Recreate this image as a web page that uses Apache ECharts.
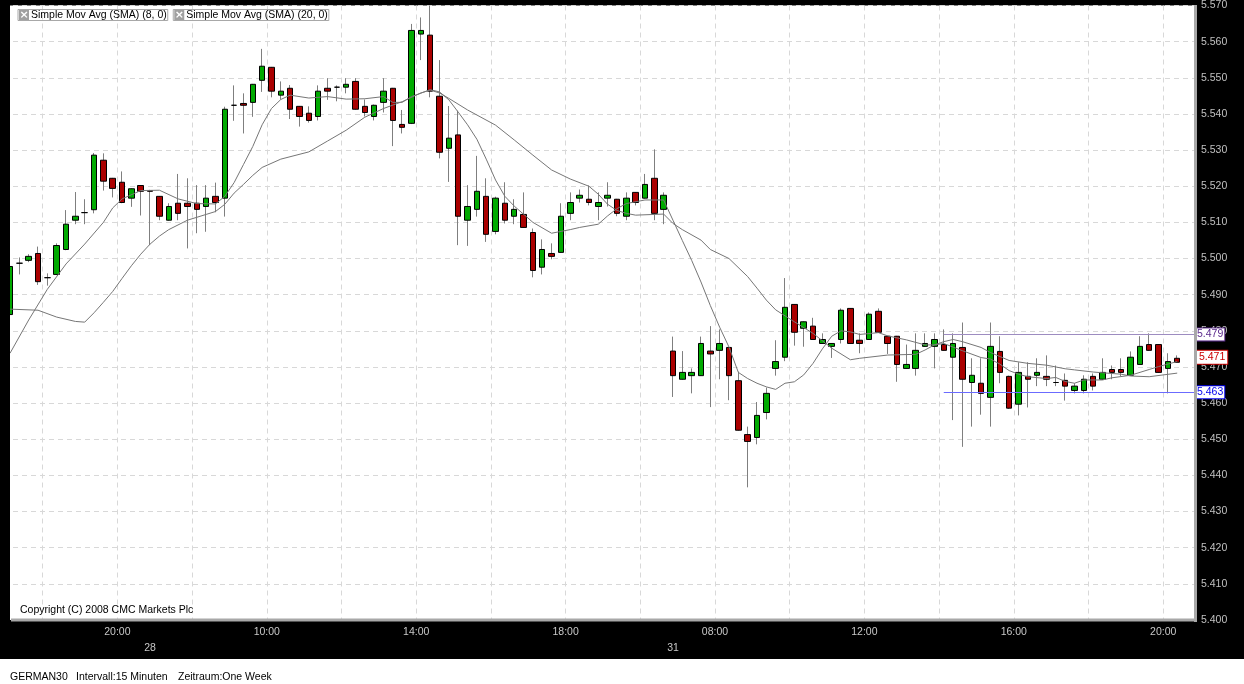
<!DOCTYPE html>
<html>
<head>
<meta charset="utf-8">
<script src="https://cdn.jsdelivr.net/npm/echarts@6/dist/echarts.min.js"></script>
<style>
html,body{margin:0;padding:0;background:#000;}
#chart{width:1244px;height:684px;}
</style>
</head>
<body>
<div id="chart"></div>
<script>
// ---- DATA (GERMAN30, 15-minute candles) ----
const opens = [5.4845,5.4987,5.4995,5.5014,5.4947,5.4956,5.5025,5.5106,5.5127,5.5135,
5.5272,5.5222,5.5211,5.5167,5.5202,5.5188,5.5172,5.5106,5.5153,5.5153,
5.5153,5.5144,5.5172,5.5167,5.5424,5.5429,5.5432,5.5493,5.5529,5.5452,
5.5471,5.5421,5.5402,5.5393,5.5471,5.5474,5.5474,5.5490,5.5421,5.5393,
5.5432,5.5471,5.5371,5.5374,5.5621,5.5618,5.5449,5.5305,5.5342,5.5106,
5.5136,5.5172,5.5075,5.5153,5.5117,5.5122,5.5072,5.4976,5.5014,5.5017,
5.5125,5.5167,5.5164,5.5144,5.5167,5.5164,5.5117,5.5183,5.5167,5.5222,
5.5136,5.4744,5.4666,5.4676,5.4676,5.4744,5.4746,5.4754,5.4662,5.4513,
5.4505,5.4574,5.4696,5.4727,5.4873,5.4807,5.4813,5.4765,5.4757,5.4776,
5.4862,5.4774,5.4776,5.4854,5.4785,5.4785,5.4696,5.4696,5.4757,5.4757,
5.4762,5.4727,5.4754,5.4657,5.4655,5.4616,5.4743,5.4674,5.4597,5.4674,
5.4677,5.4674,5.4657,5.4663,5.4635,5.4635,5.4674,5.4666,5.4693,5.4693,
5.4677,5.4707,5.4762,5.4762,5.4696,5.4724];
const closes = [5.4978,5.4987,5.5006,5.4936,5.4947,5.5036,5.5095,5.5117,5.5127,5.5286,
5.5214,5.5194,5.5155,5.5193,5.5186,5.5186,5.5117,5.5144,5.5125,5.5144,
5.5136,5.5167,5.5155,5.5413,5.5424,5.5424,5.5482,5.5532,5.5463,5.5463,
5.5413,5.5393,5.5382,5.5463,5.5463,5.5474,5.5482,5.5413,5.5404,5.5424,
5.5463,5.5382,5.5363,5.5631,5.5631,5.5463,5.5294,5.5333,5.5117,5.5144,
5.5186,5.5067,5.5167,5.5106,5.5136,5.5086,5.4967,5.5025,5.5006,5.5117,
5.5155,5.5175,5.5155,5.5155,5.5175,5.5125,5.5167,5.5155,5.5205,5.5125,
5.5175,5.4676,5.4685,5.4685,5.4765,5.4736,5.4765,5.4676,5.4525,5.4494,
5.4566,5.4627,5.4715,5.4865,5.4796,5.4825,5.4776,5.4776,5.4765,5.4857,
5.4765,5.4765,5.4846,5.4796,5.4765,5.4707,5.4707,5.4746,5.4765,5.4776,
5.4746,5.4765,5.4666,5.4677,5.4627,5.4757,5.4685,5.4586,5.4685,5.4666,
5.4685,5.4666,5.4657,5.4647,5.4647,5.4666,5.4647,5.4685,5.4685,5.4685,
5.4727,5.4757,5.4746,5.4685,5.4715,5.4713];
const lows = [5.4835,5.4956,5.4990,5.4927,5.4925,5.4954,5.5023,5.5095,5.5095,5.5125,
5.5188,5.5169,5.5153,5.5143,5.5119,5.5037,5.5106,5.5105,5.5106,5.5028,
5.5070,5.5074,5.5128,5.5116,5.5381,5.5346,5.5392,5.5461,5.5446,5.5440,
5.5386,5.5365,5.5376,5.5382,5.5439,5.5435,5.5457,5.5412,5.5393,5.5382,
5.5404,5.5311,5.5346,5.5372,5.5549,5.5446,5.5277,5.5212,5.5037,5.5035,
5.5116,5.5046,5.5067,5.5097,5.5095,5.5085,5.4948,5.4956,5.4998,5.5016,
5.5106,5.5155,5.5147,5.5106,5.5144,5.5117,5.5106,5.5147,5.5166,5.5106,
5.5095,5.4617,5.4665,5.4627,5.4675,5.4589,5.4666,5.4608,5.4524,5.4367,
5.4486,5.4555,5.4676,5.4716,5.4759,5.4756,5.4775,5.4764,5.4725,5.4765,
5.4764,5.4738,5.4775,5.4795,5.4736,5.4659,5.4695,5.4676,5.4756,5.4696,
5.4745,5.4553,5.4479,5.4535,5.4568,5.4535,5.4655,5.4584,5.4566,5.4588,
5.4647,5.4647,5.4647,5.4607,5.4627,5.4627,5.4635,5.4665,5.4666,5.4674,
5.4676,5.4706,5.4745,5.4684,5.4627,5.4712];
const highs = [5.4990,5.5003,5.5012,5.5033,5.4959,5.5042,5.5134,5.5184,5.5164,5.5292,
5.5291,5.5223,5.5241,5.5194,5.5203,5.5190,5.5173,5.5153,5.5234,5.5222,
5.5203,5.5203,5.5210,5.5420,5.5479,5.5457,5.5483,5.5580,5.5530,5.5490,
5.5480,5.5422,5.5421,5.5479,5.5499,5.5479,5.5499,5.5499,5.5440,5.5426,
5.5499,5.5472,5.5411,5.5649,5.5667,5.5700,5.5549,5.5422,5.5409,5.5203,
5.5284,5.5222,5.5171,5.5211,5.5164,5.5183,5.5083,5.5053,5.5042,5.5153,
5.5183,5.5191,5.5202,5.5183,5.5211,5.5165,5.5183,5.5184,5.5234,5.5302,
5.5183,5.4784,5.4744,5.4696,5.4784,5.4813,5.4804,5.4755,5.4687,5.4535,
5.4603,5.4643,5.4774,5.4946,5.4874,5.4826,5.4836,5.4793,5.4766,5.4862,
5.4863,5.4793,5.4851,5.4862,5.4786,5.4786,5.4762,5.4793,5.4793,5.4793,
5.4804,5.4793,5.4823,5.4724,5.4724,5.4823,5.4785,5.4676,5.4713,5.4713,
5.4724,5.4732,5.4704,5.4682,5.4655,5.4677,5.4682,5.4724,5.4704,5.4724,
5.4743,5.4785,5.4793,5.4763,5.4738,5.4732];

// moving-average lines: [candle index, value]
const sma8 = [[0,5.4738],[2,5.4830],[4,5.4915],[6,5.4985],[8,5.5040],[10,5.5100],[11,5.5140],[12,5.5165],[14,5.5188],[16,5.5189],[18,5.5165],[20,5.5152],[22,5.5151],[23,5.5172],[24,5.5210],[25,5.5260],[26,5.5310],[27,5.5370],[28,5.5415],[29,5.5440],[30,5.5452],[32,5.5444],[34,5.5448],[36,5.5441],[38,5.5442],[40,5.5448],[41,5.5432],[42,5.5432],[43,5.5448],[45,5.5467],[46,5.5461],[47,5.5439],[48,5.5405],[49,5.5370],[50,5.5330],[51,5.5275],[52,5.5217],[53,5.5172],[54,5.5145],[56,5.5100],[58,5.5070],[60,5.5080],[61,5.5086],[63,5.5095],[64,5.5118],[65,5.5138],[66,5.5152],[68,5.5162],[70,5.5162],[71,5.5106],[72,5.5050],[73,5.4995],[74,5.4935],[75,5.4870],[76,5.4810],[77,5.4755],[78,5.4685],[79,5.4668],[80,5.4655],[81,5.4645],[82,5.4638],[83,5.4655],[84,5.4659],[85,5.4678],[86,5.4710],[87,5.4750],[88,5.4785],[89,5.4800],[90,5.4797],[91,5.4790],[93,5.4795],[94,5.4786],[96,5.4775],[98,5.4761],[99,5.4761],[100,5.4765],[101,5.4755],[102,5.4745],[104,5.4726],[105,5.4722],[106,5.4708],[107,5.4690],[108,5.4680],[109,5.4673],[111,5.4668],[112,5.4671],[113,5.4660],[114,5.4655],[115,5.4664],[117,5.4664],[118,5.4670],[120,5.4677],[122,5.4693],[123,5.4701],[125,5.4715]];
const sma20 = [[0,5.4860],[3,5.4857],[5,5.4838],[7,5.4826],[8,5.4824],[9,5.4850],[10,5.4879],[11,5.4909],[12,5.4945],[13,5.4980],[14,5.5012],[15,5.5040],[16,5.5062],[17,5.5080],[19,5.5106],[21,5.5122],[22,5.5130],[23,5.5150],[24,5.5181],[25,5.5205],[26,5.5230],[27,5.5252],[29,5.5275],[32,5.5295],[34,5.5325],[36,5.5355],[38,5.5391],[40,5.5415],[42,5.5434],[44,5.5458],[45,5.5466],[46,5.5458],[47,5.5443],[49,5.5411],[52,5.5369],[54,5.5328],[56,5.5286],[58,5.5245],[60,5.5220],[62,5.5200],[63,5.5178],[64,5.5150],[65,5.5133],[66,5.5125],[67,5.5120],[70,5.5123],[71,5.5097],[72,5.5080],[74,5.5051],[75,5.5025],[77,5.5000],[79,5.4950],[80,5.4918],[81,5.4885],[82,5.4858],[84,5.4825],[86,5.4793],[88,5.4752],[90,5.4720],[91,5.4724],[94,5.4733],[97,5.4735],[98,5.4747],[99,5.4761],[100,5.4770],[101,5.4776],[102,5.4770],[104,5.4754],[105,5.4740],[107,5.4718],[109,5.4710],[111,5.4705],[113,5.4695],[114,5.4692],[116,5.4686],[117,5.4684],[119,5.4680],[120,5.4675],[122,5.4673],[125,5.4683]];

const seriesNames = ['Simple Mov Avg (SMA) (8, 0)', 'Simple Mov Avg (SMA) (20, 0)'];
// x tick labels, one per 2-hour gridline (8 candles)
const timeTickLabels = ['', '', '20:00', '', '10:00', '', '14:00', '', '18:00', '', '08:00', '', '12:00', '', '16:00', '', '20:00'];
// date labels: [candle index, text]
const dayLabels = [[15, '28'], [71, '31']];
// horizontal range levels (from candle index 100 to the right edge)
const rangeLevels = [5.479, 5.463];
const rangeStart = 100;
const footer = ['GERMAN30', 'Intervall:15 Minuten', 'Zeitraum:One Week'];

// ---- axis geometry ----
const X_SHIFT = 4.5;      // phase of the 2-hour grid relative to the first candle
const X_MAX = 131.3;
const FONT = '"Liberation Sans", Arial, sans-serif';

const candleRows = opens.map((o, i) => [i + X_SHIFT, o, closes[i], lows[i], highs[i]]);
const bodyRows = opens.map((o, i) => [i + X_SHIFT, o, closes[i], Math.min(o, closes[i]), Math.max(o, closes[i])]);
const lastIdx = closes.length - 1;
const lastClose = closes[lastIdx];

const levelColors = [{ text: '#5b2a8c', line: '#9d8cc0' }, { text: '#0000ee', line: '#6b6bff' }];
const markData = rangeLevels.map((lv, k) => [
  { coord: [rangeStart + X_SHIFT, lv],
    lineStyle: { color: levelColors[k].line, width: 1, type: 'solid' },
    label: { show: true, position: 'end', distance: 2, formatter: () => lv.toFixed(3),
      color: levelColors[k].text, backgroundColor: '#fff', borderColor: levelColors[k].text,
      borderWidth: 1, padding: [1, 1, 0, 1], fontSize: 10.5, fontFamily: FONT, lineHeight: 11 } },
  { coord: [X_MAX, lv] }
]);
markData.push([
  { coord: [lastIdx + X_SHIFT, lastClose],
    lineStyle: { color: 'rgba(0,0,0,0)', width: 1 },
    label: { show: true, position: 'end', distance: 3, offset: [0, -5], formatter: () => lastClose.toFixed(3),
      color: '#cc0000', backgroundColor: '#fff', borderColor: '#cc0000', borderWidth: 1,
      padding: [1, 2, 0, 2], fontSize: 10.5, fontFamily: FONT, lineHeight: 12 } },
  { coord: [X_MAX, lastClose] }
]);

const chart = echarts.init(document.getElementById('chart'), null, { renderer: 'canvas' });
const lineColor = '#767676';
chart.setOption({
  animation: false,
  backgroundColor: '#000',
  textStyle: { fontFamily: FONT },
  grid: { left: -32, right: 50, top: 5.5, bottom: 64, show: true, backgroundColor: '#fff', borderWidth: 0,
          containLabel: false, outerBoundsMode: 'none' },
  legend: {
    left: 8, top: 4, itemWidth: 0, itemHeight: 0, itemGap: 0, icon: 'rect', selectedMode: false,
    data: seriesNames,
    formatter: name => '{x|×}{t|' + name + '}',
    textStyle: {
      borderColor: '#a8a8a8', borderWidth: 1, padding: [0, 1, 0, 1],
      rich: {
        x: { width: 10, height: 10, backgroundColor: '#a0a0a0', color: '#fff', align: 'center',
             fontSize: 11, fontWeight: 'bold', lineHeight: 10, fontFamily: 'DejaVu Sans' },
        t: { fontSize: 10.5, color: '#000', padding: [0, 0, 0, 2], fontFamily: FONT, lineHeight: 11 }
      }
    }
  },
  xAxis: [{
    type: 'value', min: 0, max: X_MAX, interval: 8,
    axisLine: { show: false }, axisTick: { show: false },
    splitLine: { show: true, lineStyle: { color: '#d8d8d8', type: [5, 4], width: 1 } },
    axisLabel: { color: '#c8c8c8', fontSize: 10.5, fontFamily: FONT, margin: 7, showMaxLabel: false,
      formatter: v => (Math.abs(v / 8 - Math.round(v / 8)) < 1e-6 ? (timeTickLabels[Math.round(v / 8)] || '') : '') }
  }, {
    type: 'value', min: 0, max: X_MAX, position: 'bottom', offset: 0,
    axisLine: { show: false }, axisTick: { show: false }, splitLine: { show: false },
    axisLabel: { color: '#c8c8c8', fontSize: 10.5, fontFamily: FONT, margin: 23,
      customValues: dayLabels.map(d => d[0] + X_SHIFT),
      formatter: v => { const d = dayLabels.find(e => Math.abs(e[0] + X_SHIFT - v) < 0.01); return d ? d[1] : ''; } }
  }],
  yAxis: {
    type: 'value', position: 'right', min: 5.4, max: 5.57, interval: 0.01,
    axisLine: { show: false }, axisTick: { show: false },
    splitLine: { show: true, lineStyle: { color: '#d8d8d8', type: [5, 4], width: 1 } },
    axisLabel: { color: '#c0c0c0', fontSize: 10.5, fontFamily: FONT, margin: 7, formatter: v => v.toFixed(3) }
  },
  series: [
    { type: 'candlestick', name: 'range', data: candleRows, encode: { x: 0, y: [1, 2, 3, 4] },
      barWidth: 1, z: 2, silent: true,
      itemStyle: { color: '#7f7f7f', color0: '#7f7f7f', borderColor: '#7f7f7f', borderColor0: '#7f7f7f',
                   borderColorDoji: '#7f7f7f', borderWidth: 1 } },
    { type: 'candlestick', name: 'body', data: bodyRows, encode: { x: 0, y: [1, 2, 3, 4] },
      barWidth: 6, z: 3, silent: true,
      itemStyle: { color: '#00aa00', color0: '#aa0000', borderColor: '#000', borderColor0: '#000',
                   borderColorDoji: '#000', borderWidth: 1 },
      markLine: { symbol: 'none', silent: true, animation: false, precision: 4, data: markData } },
    { type: 'line', name: seriesNames[0], data: sma8.map(p => [p[0] + X_SHIFT, p[1]]),
      symbol: 'none', showSymbol: false, z: 4, silent: true,
      lineStyle: { color: lineColor, width: 1 }, itemStyle: { color: lineColor } },
    { type: 'line', name: seriesNames[1], data: sma20.map(p => [p[0] + X_SHIFT, p[1]]),
      symbol: 'none', showSymbol: false, z: 4, silent: true,
      lineStyle: { color: lineColor, width: 1 }, itemStyle: { color: lineColor } }
  ],
  graphic: [
    { type: 'rect', z: 100, silent: true, shape: { x: 0, y: 0, width: 10, height: 622 }, style: { fill: '#000' } },
    { type: 'rect', z: 100, silent: true, shape: { x: 1194, y: 5, width: 3, height: 617 }, style: { fill: '#a8a8a8' } },
    { type: 'rect', z: 100, silent: true, shape: { x: 11, y: 618.5, width: 1186, height: 3 }, style: { fill: '#a8a8a8' } },
    { type: 'rect', z: 100, silent: true, shape: { x: 0, y: 659, width: 1244, height: 25 }, style: { fill: '#fff' } },
    { type: 'text', z: 101, silent: true, x: 20, y: 610.5,
      style: { text: 'Copyright (C) 2008 CMC Markets Plc', fill: '#000', font: '10.5px ' + FONT, verticalAlign: 'middle' } },
    { type: 'text', z: 101, silent: true, x: 10, y: 677,
      style: { text: footer[0], fill: '#000', font: '10.5px ' + FONT, verticalAlign: 'middle' } },
    { type: 'text', z: 101, silent: true, x: 76, y: 677,
      style: { text: footer[1], fill: '#000', font: '10.5px ' + FONT, verticalAlign: 'middle' } },
    { type: 'text', z: 101, silent: true, x: 178, y: 677,
      style: { text: footer[2], fill: '#000', font: '10.5px ' + FONT, verticalAlign: 'middle' } }
  ]
});
</script>
</body>
</html>
